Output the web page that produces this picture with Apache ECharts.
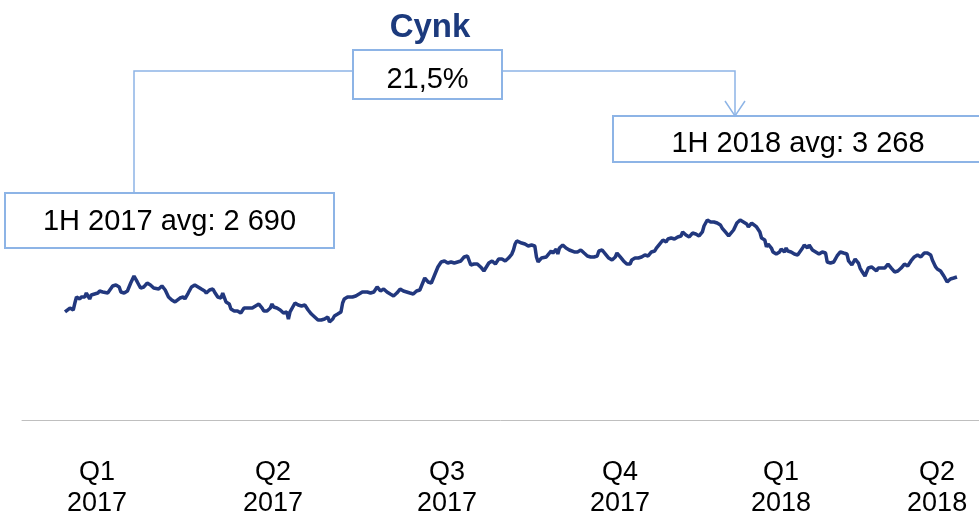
<!DOCTYPE html>
<html>
<head>
<meta charset="utf-8">
<script src="https://cdn.jsdelivr.net/npm/echarts@6/dist/echarts.min.js"></script>
<style>
  html, body { margin: 0; padding: 0; background: #fff; }
  #main { width: 979px; height: 515px; }
</style>
</head>
<body>
<div id="main"></div>
<script>
// zinc price, days counted from 2 Jan 2017
var dayOffsets = [0,1,3,5,6,7,9,10,12,13,15,16,18,20,21,23,24,26,27,29,31,33,34,36,38,40,42,44,46,48,50,52,54,57,59,61,63,65,67,68,70,72,73,75,77,79,81,83,85,86,88,90,91,
    93,95,96,97,98,100,101,103,105,106,107,109,110,112,114,116,118,120,121,123,125,126,127,129,131,133,135,136,137,139,140,142,144,146,148,150,152,154,155,156,158,160,161,163,164,166,168,169,170,172,175,177,179,181,182,
    184,186,188,190,192,194,196,198,200,202,204,206,208,209,210,212,214,216,217,219,221,223,225,227,229,231,233,235,237,239,241,243,245,247,249,251,253,255,256,258,260,262,264,266,268,270,272,273,274,
    275,278,280,282,284,286,287,288,290,291,293,294,296,297,299,300,301,303,305,307,308,310,312,313,314,316,318,320,322,324,325,327,329,331,333,335,336,338,340,342,344,345,347,349,351,353,355,357,359,360,362,364,
    366,367,369,371,373,375,376,378,380,382,384,386,388,389,391,393,395,397,399,400,402,404,405,407,409,411,413,415,416,418,419,421,423,424,426,427,428,430,431,433,435,436,438,439,440,442,444,446,449,450,452,453,
    455,457,459,461,463,464,466,468,470,472,474,476,477,479,481,483,484,485,487,489,491,492,494,495,497,499,501,503,505,507,509,511,513,515,517,519,521,523,525,527,528,530,531,533,535,537,539,541,543];

var zincPrice = [2570,2558,2614,2592,2670,2738,2715,2738,2738,2782,2715,2760,2771,2782,2805,2794,2816,2782,2794,2861,2872,2850,2794,2782,2805,2894,2973,2906,2838,2850,2894,2872,2838,2827,2861,2816,2738,2704,2682,2670,2726,2738,2715,2782,2850,2872,2850,2827,2805,2782,2816,2827,2794,
    2738,2726,2782,2794,2682,2659,2603,2581,2581,2592,2558,2614,2603,2614,2614,2637,2659,2614,2581,2581,2614,2659,2626,2614,2592,2558,2570,2491,2570,2637,2670,2648,2637,2648,2592,2547,2514,2480,2458,2480,2491,2514,2458,2491,2525,2547,2570,2670,2715,2738,2738,2749,2771,2794,2782,
    2794,2782,2794,2850,2805,2827,2794,2771,2749,2782,2827,2805,2794,2816,2782,2771,2805,2816,2861,2950,2906,2894,2984,3074,3130,3141,3118,3130,3118,3130,3141,3186,3197,3096,3107,3107,3074,3029,3040,3118,3141,3107,3163,3163,3141,3174,3219,3264,3331,
    3365,3342,3331,3309,3320,3309,3186,3130,3174,3163,3186,3174,3253,3230,3275,3219,3286,3320,3286,3264,3275,3242,3242,3230,3264,3230,3197,3186,3186,3197,3253,3264,3219,3174,3152,3186,3230,3186,3141,3107,3107,3152,3174,3174,3186,3208,3197,3242,3253,3286,3331,3376,
    3354,3387,3398,3387,3410,3421,3466,3432,3410,3454,3443,3421,3466,3533,3600,3578,3578,3566,3544,3510,3466,3421,3443,3488,3566,3600,3578,3555,3522,3566,3578,3522,3466,3398,3376,3298,3331,3286,3242,3219,3242,3275,3242,3286,3253,3242,3219,3208,3286,3320,3286,3320,
    3264,3242,3219,3242,3230,3130,3118,3130,3197,3242,3230,3219,3141,3096,3163,3118,3062,3029,2973,3062,3074,3074,3029,3062,3062,3062,3107,3062,3018,3029,3062,3107,3085,3141,3186,3208,3186,3230,3230,3208,3152,3074,3051,3029,2973,2906,2939,2950,2962];

var quarterLabels = ['Q1\n2017', 'Q2\n2017', 'Q3\n2017', 'Q4\n2017', 'Q1\n2018', 'Q2\n2018'];
var quarterLabelDays = [19.5, 126.6, 232.6, 337.9, 435.9, 530.9];

var titleText = 'Cynk';
var changeText = '21,5%';
var avg2017Text = '1H 2017 avg: 2 690';
var avg2018Text = '1H 2018 avg: 3 268';

var lineData = dayOffsets.map(function (d, i) { return [d, zincPrice[i]]; });

var chart = echarts.init(document.getElementById('main'));

var boxStroke = '#8DB4E6';
var font = "'Liberation Sans', Arial, sans-serif";

function box(x, y, w, h, text, cy) {
    return [{
        type: 'rect', z: 10,
        shape: { x: x, y: y, width: w, height: h },
        style: { fill: '#fff', stroke: boxStroke, lineWidth: 2 }
    }, {
        type: 'text', z: 11, x: x + w / 2, y: cy,
        style: { text: text, fill: '#000', font: '29px ' + font, align: 'center', verticalAlign: 'middle' }
    }];
}

var graphics = [
    { type: 'polyline', z: 5, shape: { points: [[353, 71], [134, 71], [134, 193]] }, style: { stroke: boxStroke, lineWidth: 1.5, fill: null } },
    { type: 'polyline', z: 5, shape: { points: [[502, 71], [735, 71], [735, 116]] }, style: { stroke: boxStroke, lineWidth: 1.5, fill: null } },
    { type: 'polyline', z: 12, shape: { points: [[725, 101], [735, 116], [745, 101]] }, style: { stroke: boxStroke, lineWidth: 1.5, fill: null } },
    { type: 'text', z: 11, x: 430, y: 28,
      style: { text: titleText, fill: '#1C3A7D', font: 'bold 33px ' + font, align: 'center', verticalAlign: 'middle' } }
].concat(box(353, 50, 149, 49, changeText, 80))
 .concat(box(5, 193, 329, 55, avg2017Text, 222))
 .concat(box(613, 116, 370, 46, avg2018Text, 144));

var option = {
    animation: false,
    grid: { left: 22, right: 0, top: 184, bottom: 95, outerBoundsMode: 'none', containLabel: false },
    xAxis: {
        type: 'value',
        min: -26.18,
        max: 556.4,
        splitLine: { show: false },
        axisTick: { show: false },
        axisLine: { show: true, onZero: false, lineStyle: { color: '#BFBFBF', width: 1 } },
        axisLabel: {
            customValues: quarterLabelDays,
            margin: 37,
            color: '#000',
            fontSize: 27,
            lineHeight: 31,
            fontFamily: "'Liberation Sans', Arial, sans-serif",
            formatter: function (v) {
                var i = quarterLabelDays.indexOf(v);
                return i >= 0 ? quarterLabels[i] : '';
            }
        }
    },
    yAxis: {
        type: 'value',
        min: 1360,
        max: 4003.2,
        show: false
    },
    series: [{
        type: 'line',
        data: lineData,
        showSymbol: false,
        smooth: false,
        clip: false,
        lineStyle: { color: '#22387E', width: 3.5 }
    }],
    graphic: graphics
};

chart.setOption(option);
</script>
</body>
</html>
